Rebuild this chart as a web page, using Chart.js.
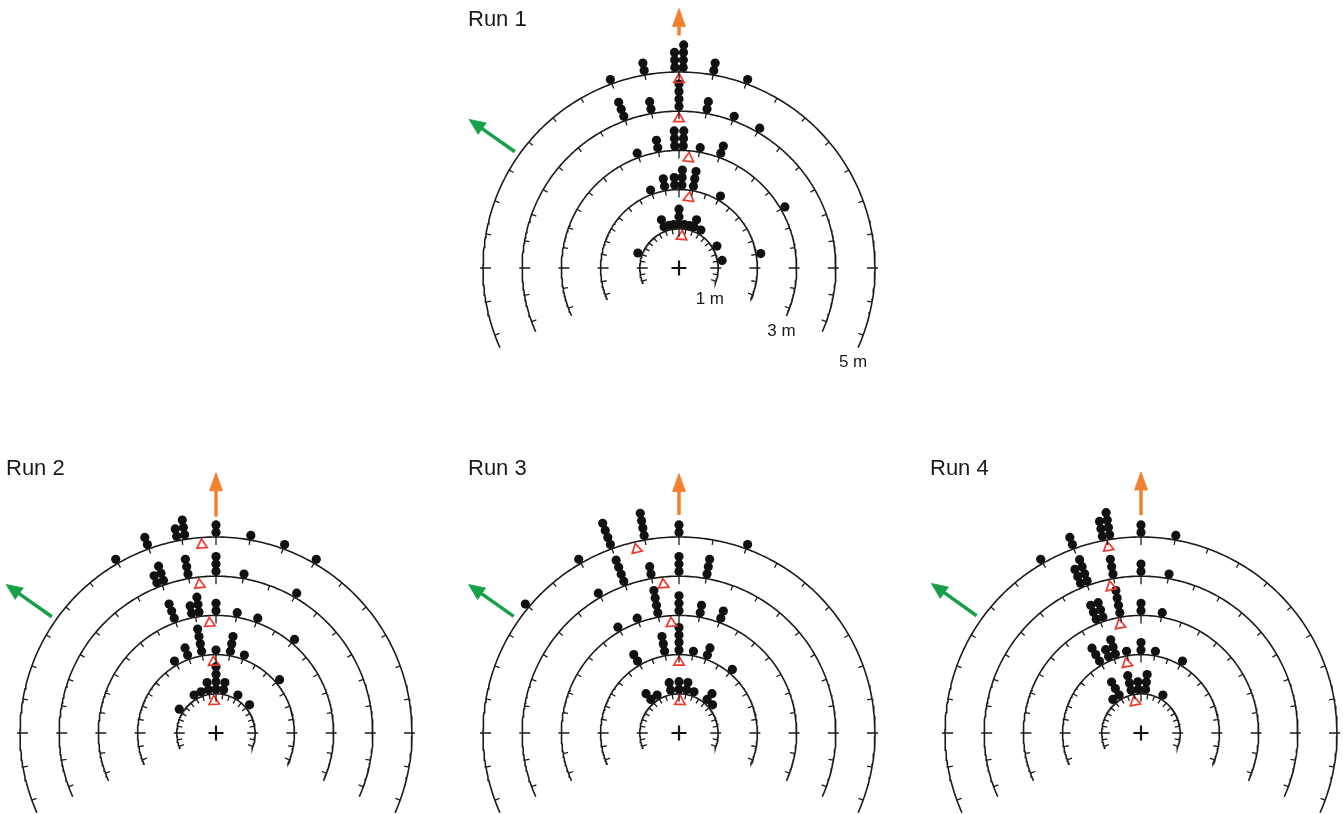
<!DOCTYPE html>
<html>
<head>
<meta charset="utf-8">
<title>Runs 1–4: circular distributions</title>
<script src="https://cdn.jsdelivr.net/npm/chart.js@4.4.1/dist/chart.umd.min.js"></script>
<style>
  html, body { margin: 0; padding: 0; background: #fff; }
  body { position: relative; width: 1343px; height: 814px; overflow: hidden; }
  canvas { position: absolute; }
</style>
</head>
<body>
<canvas id="run1" width="480" height="400"></canvas>
<canvas id="run2" width="480" height="400"></canvas>
<canvas id="run3" width="480" height="400"></canvas>
<canvas id="run4" width="480" height="400"></canvas>
<script>
// ---------- data ----------
const runNames = ['Run 1', 'Run 2', 'Run 3', 'Run 4'];
const ringRadii = [1, 2, 3, 4, 5];                 // metres
const ringLabels = ['1 m', '3 m', '5 m'];
const ringLabelRadii = [1, 3, 5];

// dot stacks: [ring (m), direction (deg clockwise from up), number of dots]
const stacksRun1 = [
  [1, -70, 1], [1, -20, 2], [1, -13, 1], [1, -7, 1], [1, 0, 3], [1, 7, 1], [1, 14, 1], [1, 20, 2], [1, 30, 1], [1, 60, 1], [1, 80, 1],
  [2, -20, 1], [2, -10, 2], [2, -3, 2], [2, 2, 3], [2, 10, 3], [2, 30, 1], [2, 80, 1],
  [3, -20, 1], [3, -10, 2], [3, -2, 3], [3, 2, 3], [3, 10, 1], [3, 20, 2], [3, 60, 1],
  [4, -20, 3], [4, -10, 2], [4, 0, 4], [4, 10, 2], [4, 20, 1], [4, 30, 1],
  [5, -20, 1], [5, -10, 2], [5, -1.2, 3], [5, 1.2, 4], [5, 10, 2], [5, 20, 1]
];
const stacksRun2 = [
  [1, -57, 1], [1, -30, 1], [1, -20, 1], [1, -10, 2], [1, 0, 4], [1, 10, 2], [1, 30, 1], [1, 50, 1],
  [2, -30, 1], [2, -20, 2], [2, -10, 4], [2, 0, 1], [2, 10, 3], [2, 20, 1], [2, 50, 1],
  [3, -20, 3], [3, -11.5, 2], [3, -8, 3], [3, 0, 2], [3, 10, 1], [3, 20, 1], [3, 40, 1],
  [4, -21.5, 2], [4, -19, 3], [4, -10, 3], [4, 0, 3], [4, 10, 1], [4, 30, 1],
  [5, -30, 1], [5, -20, 2], [5, -11.3, 2], [5, -9, 3], [5, 0, 2], [5, 10, 1], [5, 20, 1], [5, 30, 1]
];
const stacksRun3 = [
  [1, -40, 2], [1, -30, 1], [1, -11, 2], [1, 0, 2], [1, 10, 2], [1, 20, 1], [1, 40, 2], [1, 50, 1],
  [2, -30, 2], [2, -10, 3], [2, 0, 4], [2, 10, 1], [2, 20, 2], [2, 40, 1],
  [3, -30, 1], [3, -20, 1], [3, -10, 4], [3, 0, 3], [3, 10, 2], [3, 20, 2],
  [4, -30, 1], [4, -20, 4], [4, -10, 2], [4, 0, 3], [4, 10, 3],
  [5, -50, 1], [5, -30, 1], [5, -20, 4], [5, -10, 4], [5, 0, 2], [5, 20, 1]
];
const stacksRun4 = [
  [1, -40, 1], [1, -30, 3], [1, -13, 3], [1, -3.5, 2], [1, 6, 3], [1, 30, 1],
  [2, -30, 3], [2, -23, 2], [2, -18, 3], [2, -10, 1], [2, 0, 2], [2, 10, 1], [2, 30, 1],
  [3, -21.5, 3], [3, -18.2, 3], [3, -10, 4], [3, 0, 2], [3, 10, 1],
  [4, -22, 3], [4, -19.5, 4], [4, -10, 3], [4, 0, 2], [4, 10, 1],
  [5, -30, 1], [5, -20, 2], [5, -11.1, 3], [5, -9, 4], [5, 0, 2], [5, 10, 1]
];

// mean direction (deg) for rings 1..5
const meansRun1 = [5, 8, 5, 0, 0];
const meansRun2 = [-3.5, -2, -3.3, -6.3, -4.3];
const meansRun3 = [2, 0, -4, -6, -13];
const meansRun4 = [-11, -11.5, -11, -11.7, -10];

// reference arrows: direction (deg) and radial extent (m)
const orangeArrowDir = [0, 0, 0, 0];
const orangeArrowFrom = [5.93, 5.52, 5.56, 5.56];
const orangeArrowTo = [6.62, 6.64, 6.62, 6.66];
const greenArrowDir = [-54.7, -54.7, -54.8, -54.5];
const greenArrowFrom = [5.13, 5.13, 5.16, 5.15];
const greenArrowTo = [6.56, 6.56, 6.57, 6.57];

// ---------- layout & style ----------
const PX_PER_M = 39.2;
const CANVAS_W = 480, CANVAS_H = 400;
const ORIGIN_X = 240, ORIGIN_Y = 280;             // pole position inside each canvas
const panelCentres = [[679, 268], [216, 733], [679, 733], [1141, 733]];
const titleOffsets = [[-211, -242], [-210, -258], [-211, -258], [-211, -258]];
const ARC_HALF_SPAN = 114;                        // degrees either side of up
const TICK_STEP = 10;
const DOT_FIRST = 4.6, DOT_STEP = 7.5, DOT_RADIUS = 4.6;   // px
const MEAN_INSET = 7.5;                            // px inside the ring
const INK = '#1b1b1b';
const ORANGE = '#f1802f';
const GREEN = '#17a04a';
const RED = '#ee3a2e';
const FONT = "'Liberation Sans', Arial, Helvetica, sans-serif";

const runs = [
  { stacks: stacksRun1, means: meansRun1 },
  { stacks: stacksRun2, means: meansRun2 },
  { stacks: stacksRun3, means: meansRun3 },
  { stacks: stacksRun4, means: meansRun4 }
];

const m = px => px / PX_PER_M;
function polar(r, deg) {
  const a = deg * Math.PI / 180;
  return { x: r * Math.sin(a), y: r * Math.cos(a) };
}
const GAP = { x: 0, y: null };

function arcPoints() {
  const pts = [];
  ringRadii.forEach(r => {
    for (let d = -ARC_HALF_SPAN; d <= ARC_HALF_SPAN; d += 1) pts.push(polar(r, d));
    pts.push(GAP);
  });
  return pts;
}
function tickPoints() {
  const pts = [];
  ringRadii.forEach(r => {
    for (let d = -110; d <= 110; d += TICK_STEP) {
      const major = d % 90 === 0;
      pts.push(polar(r - m(major ? 8 : 5), d), polar(r + m(major ? 3 : 0), d), GAP);
    }
  });
  return pts;
}
function dotPoints(stacks) {
  const pts = [];
  stacks.forEach(([ring, deg, n]) => {
    for (let k = 0; k < n; k++) pts.push(polar(ring + m(DOT_FIRST + k * DOT_STEP), deg));
  });
  return pts;
}
function meanPoints(means) {
  return means.map((deg, i) => Object.assign(polar(ringRadii[i] - m(MEAN_INSET), deg), { rot: deg }));
}
function arrowShaft(deg, from, to, headLen) {
  return [polar(from, deg), polar(to - m(headLen) + m(1), deg)];
}
function arrowHead(deg, to, headLen, halfWidth) {
  const tip = polar(to, deg);
  const base = polar(to - m(headLen), deg);
  const a = deg * Math.PI / 180;
  const px = Math.cos(a) * m(halfWidth), py = -Math.sin(a) * m(halfWidth);
  return [tip, { x: base.x + px, y: base.y + py }, { x: base.x - px, y: base.y - py }, tip];
}

const lineSet = (data, color, width) => ({
  data, borderColor: color, borderWidth: width, pointRadius: 0, pointHoverRadius: 0,
  showLine: true, fill: false, spanGaps: false, tension: 0, clip: false
});

// titles, ring labels drawn from the chart's own scales
const textPlugin = {
  id: 'panelText',
  afterDatasetsDraw(chart, args, opts) {
    const { ctx, scales: { x, y } } = chart;
    const cx = x.getPixelForValue(0), cy = y.getPixelForValue(0);
    ctx.save();
    ctx.fillStyle = '#1a1a1a';
    ctx.font = '22px ' + FONT;
    ctx.textAlign = 'left';
    ctx.textBaseline = 'alphabetic';
    ctx.fillText(opts.title, cx + opts.titleOffset[0], cy + opts.titleOffset[1]);
    if (opts.showRingLabels) {
      ctx.font = '17px ' + FONT;
      ctx.textAlign = 'center';
      ctx.textBaseline = 'middle';
      ringLabels.forEach((label, i) => {
        const end = polar(ringLabelRadii[i], ARC_HALF_SPAN);
        ctx.fillText(label, x.getPixelForValue(end.x) - 5, y.getPixelForValue(end.y) + 15);
      });
    }
    ctx.restore();
  }
};

runs.forEach((run, i) => {
  const canvas = document.getElementById('run' + (i + 1));
  canvas.style.left = (panelCentres[i][0] - ORIGIN_X) + 'px';
  canvas.style.top = (panelCentres[i][1] - ORIGIN_Y) + 'px';

  const datasets = [
    lineSet(arcPoints(), INK, 1.6),
    lineSet(tickPoints(), INK, 1.3),
    lineSet(arrowShaft(orangeArrowDir[i], orangeArrowFrom[i], orangeArrowTo[i], 18), ORANGE, 3.5),
    Object.assign(lineSet(arrowHead(orangeArrowDir[i], orangeArrowTo[i], 18, 6.5), ORANGE, 0.8),
      { fill: 'shape', backgroundColor: ORANGE }),
    lineSet(arrowShaft(greenArrowDir[i], greenArrowFrom[i], greenArrowTo[i], 16), GREEN, 3.5),
    Object.assign(lineSet(arrowHead(greenArrowDir[i], greenArrowTo[i], 16, 7), GREEN, 0.8),
      { fill: 'shape', backgroundColor: GREEN }),
    {
      data: meanPoints(run.means), showLine: false, clip: false,
      pointStyle: 'triangle', pointRadius: 6, pointHoverRadius: 6,
      pointRotation: c => (c.raw ? c.raw.rot : 0),
      pointBorderColor: RED, pointBorderWidth: 1.7, pointBackgroundColor: 'rgba(255,255,255,0)'
    },
    {
      data: dotPoints(run.stacks), showLine: false, clip: false,
      pointStyle: 'circle', pointRadius: DOT_RADIUS, pointHoverRadius: DOT_RADIUS,
      pointBorderWidth: 0, pointBackgroundColor: '#111', pointBorderColor: '#111'
    },
    {
      data: [{ x: 0, y: 0 }], showLine: false, clip: false,
      pointStyle: 'cross', pointRadius: 7.5, pointHoverRadius: 7.5,
      pointBorderWidth: 2.2, pointBorderColor: '#111'
    }
  ];

  new Chart(canvas, {
    type: 'line',
    data: { datasets },
    options: {
      responsive: false,
      animation: false,
      events: [],
      layout: { padding: 0, autoPadding: false },
      scales: {
        x: { type: 'linear', display: false, min: -m(ORIGIN_X), max: m(CANVAS_W - ORIGIN_X) },
        y: { type: 'linear', display: false, min: -m(CANVAS_H - ORIGIN_Y), max: m(ORIGIN_Y) }
      },
      plugins: {
        legend: { display: false },
        tooltip: { enabled: false },
        panelText: { title: runNames[i], titleOffset: titleOffsets[i], showRingLabels: i === 0 }
      }
    },
    plugins: [textPlugin]
  });
});
</script>
</body>
</html>
